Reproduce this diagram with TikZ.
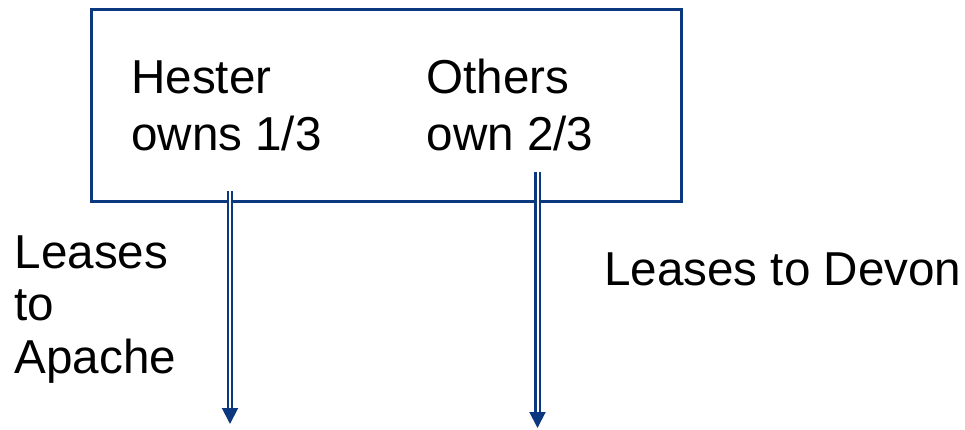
\documentclass[tikz,border=0pt]{standalone}
\usepackage{fontspec}
\setmainfont{Liberation Sans}
\usetikzlibrary{arrows.meta,calc}
\definecolor{navy}{RGB}{12,56,128}
\tikzset{
  frame/.style={draw=navy, line width=3pt, inner sep=0pt, anchor=north west},
  lbl/.style={anchor=base west, inner sep=0pt, font=\fontsize{47.6}{56}\selectfont},
  dbl/.style={draw=navy, line width=2.2pt, double=white, double distance=2pt, shorten >=14pt},
  tipend/.style={draw=navy, line width=2pt, -{Triangle[width=16pt,length=16pt]}}
}
\begin{document}
\begin{tikzpicture}[x=1pt,y=-1pt]
\useasboundingbox (0,0) rectangle (965,430);
\node[frame, minimum width=590pt, minimum height=192pt] (box) at (90,8) {};
\node[lbl] (hester) at (131,93.5) {Hester};
\node[lbl] (owns) at (131,151) {owns 1/3};
\node[lbl] (others) at (426.5,93.5) {Others};
\node[lbl] (own) at (426.5,151) {own 2/3};
\node[lbl] (l1) at (14.5,268) {Leases};
\node[lbl] (l2) at (14.5,320.5) {to};
\node[lbl] (l3) at (14.5,373) {Apache};
\node[lbl] (devon) at (604,285) {Leases to Devon};
\coordinate (a1s) at (230,191);
\coordinate (a1e) at (230,424);
\coordinate (a2s) at (537.5,172);
\coordinate (a2e) at (537.5,428);
\draw[dbl] (a1s) -- (a1e);
\draw[tipend] ($(a1e)+(0,-15)$) -- (a1e);
\draw[dbl] (a2s) -- (a2e);
\draw[tipend] ($(a2e)+(0,-15)$) -- (a2e);
\end{tikzpicture}
\end{document}
